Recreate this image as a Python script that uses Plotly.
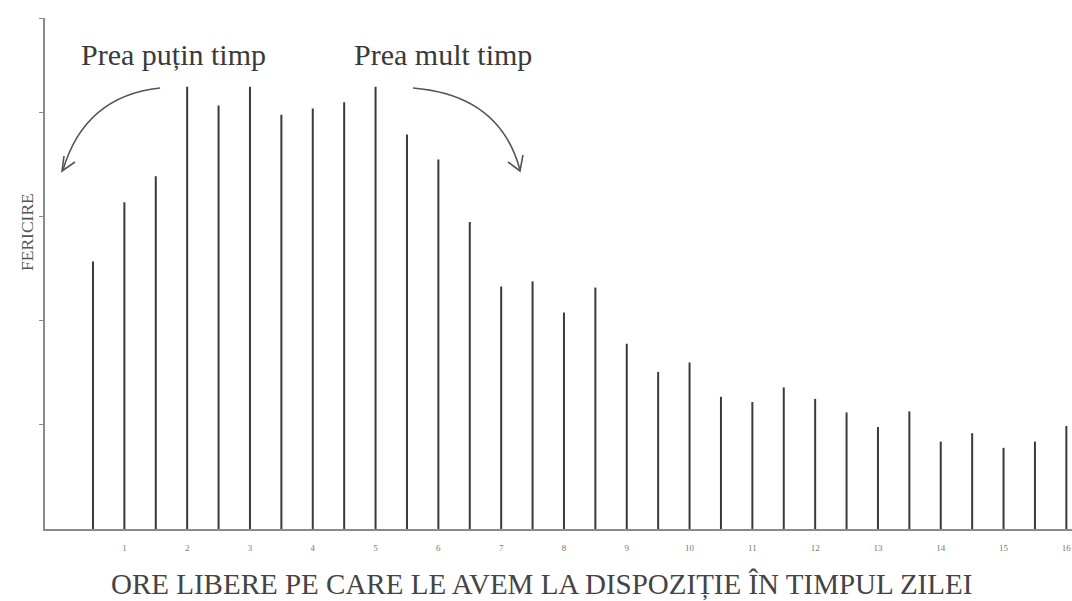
import plotly.graph_objects as go

# Free hours per day (x) and happiness (line heights)
hours = [0.5, 1, 1.5, 2, 2.5, 3, 3.5, 4, 4.5, 5, 5.5, 6, 6.5, 7, 7.5, 8,
         8.5, 9, 9.5, 10, 10.5, 11, 11.5, 12, 12.5, 13, 13.5, 14, 14.5, 15, 15.5, 16]
happiness = [2.57, 3.14, 3.39, 4.25, 4.07, 4.25, 3.98, 4.04, 4.10, 4.25, 3.79, 3.55,
             2.95, 2.33, 2.38, 2.08, 2.32, 1.78, 1.51, 1.60, 1.27, 1.22, 1.36, 1.25,
             1.12, 0.98, 1.13, 0.84, 0.92, 0.78, 0.84, 0.99]
tick_values = [1, 2, 3, 4, 5, 6, 7, 8, 9, 10, 11, 12, 13, 14, 15, 16]
tick_labels = ["1", "2", "3", "4", "5", "6", "7", "8", "9", "10", "11", "12", "13", "14", "15", "16"]

x_title = "ORE LIBERE PE CARE LE AVEM LA DISPOZIȚIE ÎN TIMPUL ZILEI"
y_title = "FERICIRE"
label_left = "Prea puțin timp"
label_right = "Prea mult timp"

W, H = 1072, 601
ML, MR, MT, MB = 45, 0, 18, 601 - 529
PW, PH = W - ML - MR, H - MT - MB
YMAX = 4.91

SERIF = "Liberation Serif, Times New Roman, serif"

# build vertical strokes from the data
xs, ys = [], []
for h, v in zip(hours, happiness):
    xs += [h, h, None]
    ys += [0, v, None]

fig = go.Figure()
fig.add_trace(go.Scatter(x=xs, y=ys, mode="lines",
                         line=dict(color="#3a3a3a", width=2),
                         hoverinfo="skip", showlegend=False))


# helpers: pixel -> paper coords
def px(xp):
    return (xp - ML) / PW


def py(yp):
    return (H - MB - yp) / PH


def pth(points, cmd="Q"):
    (x0, y0), rest = points[0], points[1:]
    return f"M {px(x0):.4f},{py(y0):.4f} {cmd} " + " ".join(
        f"{px(a):.4f},{py(b):.4f}" for a, b in rest)


arrow_style = dict(color="#555555", width=1.6)
shapes = [
    dict(type="path", xref="paper", yref="paper",
         path=pth([(160, 88), (85, 96), (63, 170)]), line=arrow_style),
    dict(type="path", xref="paper", yref="paper",
         path=f"M {px(64):.4f},{py(156):.4f} L {px(62):.4f},{py(171):.4f} L {px(75):.4f},{py(162):.4f}",
         line=arrow_style),
    dict(type="path", xref="paper", yref="paper",
         path=pth([(413, 88), (500, 95), (520, 170)]), line=arrow_style),
    dict(type="path", xref="paper", yref="paper",
         path=f"M {px(508):.4f},{py(162):.4f} L {px(520):.4f},{py(171):.4f} L {px(523):.4f},{py(155):.4f}",
         line=arrow_style),
]

annotations = [
    dict(text=label_left, x=px(173), y=py(54), xref="paper", yref="paper",
         showarrow=False, xanchor="center", yanchor="middle",
         font=dict(family=SERIF, size=30, color="#3a3a3a")),
    dict(text=label_right, x=px(443), y=py(54), xref="paper", yref="paper",
         showarrow=False, xanchor="center", yanchor="middle",
         font=dict(family=SERIF, size=30, color="#3a3a3a")),
    dict(text=x_title, x=px(541), y=py(584), xref="paper", yref="paper",
         showarrow=False, xanchor="center", yanchor="middle",
         font=dict(family=SERIF, size=29, color="#444444")),
    dict(text=y_title, x=px(27), y=py(232), xref="paper", yref="paper",
         showarrow=False, xanchor="center", yanchor="middle", textangle=-90,
         font=dict(family=SERIF, size=17.5, color="#555555")),
]

fig.update_layout(
    width=W, height=H,
    margin=dict(l=ML, r=MR, t=MT, b=MB, pad=0),
    paper_bgcolor="white", plot_bgcolor="white",
    shapes=shapes, annotations=annotations,
    xaxis=dict(range=[-0.264, 16.09], showgrid=False, zeroline=False,
               showline=True, linecolor="#8a8a8a", linewidth=1.5,
               tickmode="array", tickvals=tick_values, ticktext=tick_labels,
               ticks="", ticklabelstandoff=9,
               tickfont=dict(family=SERIF, size=9, color="#777777")),
    yaxis=dict(range=[0, YMAX], showgrid=False, zeroline=False,
               showline=True, linecolor="#8a8a8a", linewidth=1.5,
               tickmode="array", tickvals=[1, 2, 3, 4, YMAX],
               ticks="outside", ticklen=4, tickcolor="#8a8a8a", tickwidth=1,
               showticklabels=False),
)

fig.write_html("out.html",
               config={"displayModeBar": False},
               post_script="document.body.style.margin='0';document.body.style.overflow='hidden';")
